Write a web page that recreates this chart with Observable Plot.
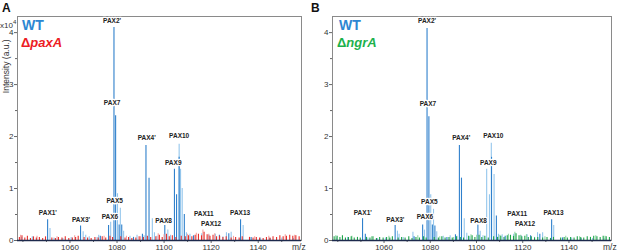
<!DOCTYPE html>
<html><head><meta charset="utf-8">
<script src="https://cdn.jsdelivr.net/npm/d3@7"></script>
<script src="https://cdn.jsdelivr.net/npm/@observablehq/plot@0.6"></script>
<style>
body{margin:0;background:#fff;}
#wrap{position:relative;width:617px;height:251px;overflow:hidden;font-family:"Liberation Sans",Arial,sans-serif;}
.pan{position:absolute;top:0;}
.lab{position:absolute;white-space:nowrap;line-height:1;}
</style></head><body><div id="wrap"></div>
<script>
// ---- axis ticks ----
const xTicks = [1060, 1080, 1100, 1120, 1140];
const xMinor = [1040, 1050, 1070, 1090, 1110, 1130, 1150];
const yTicks = [0, 1, 2, 3, 4];
const yMinor = [0.5, 1.5, 2.5, 3.5];

// ---- Panel A: WT (blue) ----  [m/z, intensity x10^4]
const wtDarkA = [[1050.5,0.40],[1064.5,0.28],[1072.9,0.08],[1076.4,0.29],[1078.7,4.10],[1079.4,2.40],[1080.9,0.30],[1082.0,0.30],[1087.0,0.06],[1090.8,0.12],[1092.3,1.83],[1093.6,1.20],[1100.3,0.29],[1104.4,1.37],[1105.3,0.88],[1106.4,1.60],[1108.6,0.50],[1112.5,0.09],[1119.0,0.10],[1123.5,0.10],[1127.5,0.13],[1132.5,0.40],[1137.0,0.06],[1145.0,0.04]];
const wtLightA = [[1039.5,0.06],[1044.0,0.07],[1051.5,0.23],[1053.2,0.05],[1057.0,0.04],[1060.5,0.06],[1065.6,0.17],[1066.7,0.10],[1068.2,0.07],[1071.5,0.06],[1072.2,0.10],[1077.3,0.35],[1080.2,0.90],[1081.4,0.62],[1082.8,0.18],[1085.5,0.08],[1088.5,0.10],[1091.5,0.09],[1095.0,0.42],[1095.9,0.15],[1097.0,0.08],[1101.6,0.20],[1102.7,0.10],[1106.4,1.85],[1107.0,1.37],[1107.7,1.00],[1109.5,0.15],[1111.0,0.12],[1116.0,0.13],[1121.8,0.12],[1125.0,0.07],[1126.5,0.15],[1128.5,0.16],[1133.6,0.29],[1141.0,0.05],[1150.0,0.05],[1155.0,0.04]];
// ---- Panel A: ΔpaxA (red) ----
const mutDarkA = [[1038.5,0.06],[1039.6,0.09],[1040.8,0.05],[1041.9,0.08],[1043.2,0.04],[1044.5,0.07],[1045.7,0.05],[1047.0,0.06],[1048.4,0.04],[1049.6,0.07],[1052.3,0.05],[1053.8,0.04],[1055.1,0.06],[1056.6,0.05],[1058.0,0.07],[1059.5,0.04],[1061.0,0.05],[1062.4,0.06],[1063.5,0.08],[1066.0,0.06],[1067.5,0.05],[1069.0,0.04],[1070.6,0.06],[1072.0,0.05],[1073.7,0.07],[1075.2,0.05],[1077.0,0.08],[1078.1,0.06],[1081.6,0.07],[1083.4,0.05],[1084.9,0.06],[1086.3,0.04],[1088.0,0.05],[1089.4,0.07],[1091.2,0.06],[1092.9,0.08],[1094.3,0.06],[1096.5,0.07],[1098.0,0.10],[1099.2,0.06],[1101.0,0.12],[1102.2,0.07],[1103.5,0.09],[1105.0,0.06],[1107.3,0.08],[1109.0,0.07],[1110.4,0.09],[1111.8,0.07],[1113.2,0.10],[1114.6,0.12],[1115.9,0.09],[1117.0,0.16],[1118.3,0.11],[1119.5,0.08],[1120.8,0.10],[1122.3,0.07],[1123.6,0.08],[1125.0,0.06],[1126.4,0.07],[1128.5,0.05],[1130.4,0.06],[1131.9,0.05],[1133.2,0.07],[1136.3,0.06],[1137.8,0.05],[1139.2,0.06],[1140.6,0.05],[1142.1,0.04],[1143.5,0.06],[1145.0,0.05],[1146.3,0.07],[1147.8,0.06],[1149.2,0.09],[1150.6,0.07],[1152.0,0.08],[1153.4,0.10],[1154.7,0.08],[1156.0,0.09],[1157.4,0.07]];
const mutLightA = [[1039.0,0.10],[1046.0,0.08],[1054.5,0.07],[1062.0,0.09],[1074.5,0.08],[1084.0,0.08],[1090.0,0.07],[1097.5,0.13],[1100.0,0.11],[1110.0,0.12],[1113.7,0.14],[1116.5,0.20],[1119.0,0.12],[1121.5,0.13],[1129.5,0.08],[1138.5,0.07],[1144.5,0.08],[1151.5,0.11],[1155.5,0.10]];
const pepA = ["PAX2'","PAX7","PAX4'","PAX10","PAX9","PAX5","PAX6","PAX8","PAX11","PAX12","PAX13","PAX1'","PAX3'"];
const pepMzA = [1077.9,1077.9,1092.6,1106.4,1103.9,1079.0,1077.0,1099.8,1116.9,1120.0,1132.3,1050.6,1064.7];
const pepYA = [4.23,2.64,1.98,2.02,1.49,0.76,0.45,0.38,0.52,0.32,0.53,0.53,0.40];

// ---- Panel B: WT (blue) ----
const wtDarkB = [[1050.7,0.42],[1051.9,0.12],[1064.8,0.29],[1073.0,0.07],[1076.7,0.30],[1078.6,4.08],[1079.4,2.38],[1080.9,0.30],[1082.0,0.28],[1087.2,0.06],[1090.9,0.11],[1092.6,1.83],[1093.5,1.20],[1100.6,0.30],[1106.5,1.60],[1108.6,0.47],[1112.4,0.08],[1119.2,0.09],[1123.4,0.09],[1127.4,0.12],[1132.5,0.40],[1137.2,0.05],[1145.2,0.04]];
const wtLightB = [[1039.4,0.05],[1044.2,0.06],[1053.0,0.05],[1057.2,0.04],[1060.6,0.05],[1065.8,0.18],[1066.5,0.12],[1068.3,0.06],[1072.5,0.16],[1077.5,0.20],[1080.2,0.88],[1081.4,0.60],[1082.8,0.17],[1085.6,0.08],[1088.6,0.09],[1091.6,0.08],[1094.7,0.42],[1095.8,0.14],[1097.1,0.07],[1101.6,0.18],[1102.8,0.09],[1104.4,1.37],[1105.6,0.88],[1106.4,1.87],[1107.6,1.27],[1109.5,0.12],[1111.1,0.11],[1116.1,0.12],[1121.9,0.11],[1125.1,0.06],[1126.4,0.15],[1128.6,0.15],[1133.4,0.29],[1141.2,0.05],[1150.2,0.04],[1155.2,0.04]];
// ---- Panel B: ΔngrA (green) ----
const mutDarkB = [[1038.4,0.07],[1039.7,0.08],[1040.9,0.06],[1042.0,0.09],[1043.3,0.05],[1044.6,0.06],[1045.8,0.07],[1047.1,0.05],[1048.5,0.06],[1049.7,0.05],[1052.4,0.06],[1053.9,0.05],[1055.2,0.07],[1056.7,0.04],[1058.1,0.06],[1059.6,0.05],[1061.1,0.06],[1062.5,0.05],[1063.6,0.07],[1066.1,0.05],[1067.6,0.06],[1069.1,0.05],[1070.7,0.07],[1072.1,0.04],[1073.8,0.06],[1075.3,0.05],[1077.1,0.07],[1078.2,0.05],[1081.7,0.06],[1083.5,0.05],[1085.0,0.07],[1086.4,0.05],[1088.1,0.06],[1089.5,0.05],[1091.3,0.07],[1093.0,0.06],[1094.4,0.05],[1096.6,0.08],[1098.1,0.09],[1099.3,0.06],[1101.1,0.10],[1102.3,0.06],[1103.6,0.08],[1105.1,0.05],[1107.4,0.07],[1109.1,0.06],[1110.5,0.08],[1111.9,0.06],[1113.3,0.09],[1114.7,0.10],[1116.0,0.08],[1117.1,0.13],[1118.4,0.09],[1119.6,0.07],[1120.9,0.08],[1122.4,0.06],[1123.7,0.07],[1125.1,0.05],[1126.5,0.06],[1128.6,0.05],[1130.5,0.06],[1132.0,0.04],[1133.3,0.06],[1136.4,0.05],[1137.9,0.06],[1139.3,0.05],[1140.7,0.06],[1142.2,0.05],[1143.6,0.07],[1145.1,0.06],[1146.4,0.05],[1147.9,0.07],[1149.3,0.06],[1150.7,0.08],[1152.1,0.07],[1153.5,0.06],[1154.8,0.08],[1156.1,0.07],[1157.5,0.06]];
const mutLightB = [[1039.1,0.09],[1046.1,0.08],[1054.6,0.07],[1062.1,0.08],[1074.6,0.09],[1084.1,0.07],[1090.1,0.06],[1097.6,0.11],[1100.1,0.10],[1110.1,0.10],[1113.8,0.12],[1116.6,0.16],[1119.1,0.10],[1121.6,0.11],[1129.6,0.07],[1138.6,0.08],[1144.6,0.07],[1151.6,0.09],[1155.6,0.08]];
const pepMzB = [1078.6,1079.0,1093.4,1107.3,1105.1,1079.6,1077.7,1100.9,1117.6,1121.0,1133.3,1050.8,1064.9];
const pepYB = [4.22,2.63,1.97,2.01,1.49,0.75,0.45,0.38,0.51,0.31,0.53,0.53,0.40];

const C = {blueD:"#2f80cc", blueL:"#94c6ec", redD:"#e8302c", redL:"#f3a2a0", greenD:"#1ea54a", greenL:"#8fd6a3"};

function panel(o) {
  const labels = pepA.map((t, i) => ({t, x: o.pepMz[i], y: o.pepY[i]}));
  const rule = (data, stroke) => Plot.ruleX(data, {x: d => d[0], y1: 0, y2: d => d[1], stroke, strokeWidth: 1.1});
  return Plot.plot({
    width: o.width, height: 251,
    marginLeft: o.ml, marginRight: o.mr, marginTop: 16, marginBottom: 11,
    x: {domain: [1037.7, 1158.4]},
    y: {domain: [0, 4.31]},
    style: {fontFamily: "Liberation Sans, Arial, sans-serif", fontSize: "8px", color: "#333", background: "transparent", overflow: "visible"},
    marks: [
      Plot.axisX({ticks: xMinor, tickSize: 2, tickFormat: () => "", label: null, stroke: "#666"}),
      Plot.axisX({ticks: xTicks, tickSize: 3, tickPadding: 1, tickFormat: d => String(d), label: null, stroke: "#666"}),
      Plot.axisY({ticks: yMinor, tickSize: 2, tickFormat: () => "", label: null, stroke: "#666"}),
      Plot.axisY({ticks: yTicks, tickSize: 3, tickPadding: 1, tickFormat: d => String(d), label: null, stroke: "#666"}),
      rule(o.wtLight, C.blueL),
      rule(o.wtDark, C.blueD),
      rule(o.mutLight, o.mL),
      rule(o.mutDark, o.mD),
      Plot.frame({stroke: "#8a8a8a"}),
      Plot.ruleY([0], {stroke: "#1d2a4d", strokeWidth: 1.6}),
      Plot.text(labels, {x: "x", y: "y", text: "t", fontWeight: "bold", fontSize: 6.5, fill: "#222", stroke: "white", strokeWidth: 2.5, paintOrder: "stroke"})
    ]
  });
}

const wrap = document.getElementById("wrap");
const pA = panel({width: 308, ml: 17, mr: 7, wtDark: wtDarkA, wtLight: wtLightA, mutDark: mutDarkA, mutLight: mutLightA, mD: C.redD, mL: C.redL, pepMz: pepMzA, pepY: pepYA});
pA.classList.add("pan"); pA.style.left = "0px";
const pB = panel({width: 309, ml: 24, mr: 6, wtDark: wtDarkB, wtLight: wtLightB, mutDark: mutDarkB, mutLight: mutLightB, mD: C.greenD, mL: C.greenL, pepMz: pepMzB, pepY: pepYB});
pB.classList.add("pan"); pB.style.left = "308px";
wrap.append(pA, pB);

function lab(html, css) {
  const d = document.createElement("div");
  d.className = "lab"; d.innerHTML = html; Object.assign(d.style, css); wrap.append(d);
}
lab("A", {left: "2px", top: "2px", fontSize: "12px", fontWeight: "bold", color: "#111"});
lab("B", {left: "311px", top: "2px", fontSize: "12px", fontWeight: "bold", color: "#111"});
lab("x10<sup style='font-size:6px'>4</sup>", {left: "0px", top: "19px", fontSize: "8px", color: "#333"});
lab("Intensity (a.u.)", {left: "-27px", top: "62px", width: "66px", textAlign: "center", fontSize: "8.5px", color: "#333", transform: "rotate(-90deg)"});
lab("WT", {left: "22px", top: "18px", fontSize: "14px", fontWeight: "bold", color: "#2d87d2"});
lab("Δ<i>paxA</i>", {left: "21px", top: "36px", fontSize: "13px", fontWeight: "bold", color: "#ec1c24"});
lab("WT", {left: "339px", top: "18px", fontSize: "14px", fontWeight: "bold", color: "#2d87d2"});
lab("Δ<i>ngrA</i>", {left: "337px", top: "36px", fontSize: "13px", fontWeight: "bold", color: "#1db14b"});
lab("m/z", {left: "292px", top: "243px", fontSize: "8.5px", color: "#333"});
lab("m/z", {left: "603px", top: "243px", fontSize: "8.5px", color: "#333"});
</script></body></html>
